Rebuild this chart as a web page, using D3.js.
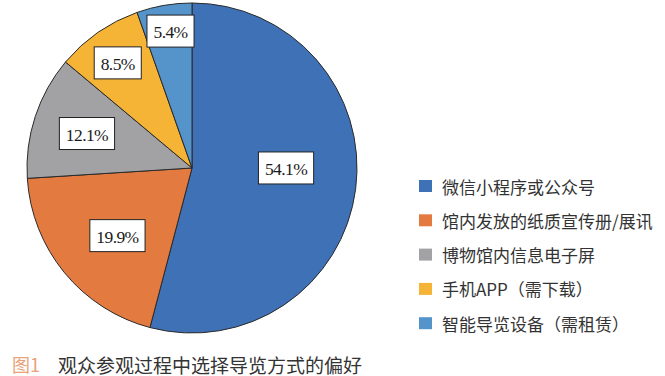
<!DOCTYPE html>
<html><head><meta charset="utf-8">
<script src="https://cdn.jsdelivr.net/npm/d3@7"></script>
<style>body{margin:0;background:#fff}svg{display:block}</style>
</head><body>
<svg id="c" width="665" height="376"></svg>
<script>
const categories = ["微信小程序或公众号","馆内发放的纸质宣传册/展讯","博物馆内信息电子屏","手机APP（需下载）","智能导览设备（需租赁）"];
const values = [54.1, 19.9, 12.1, 8.5, 5.4];
const valueLabels = ["54.1%","19.9%","12.1%","8.5%","5.4%"];
const captionNum = "图1";
const captionText = "观众参观过程中选择导览方式的偏好";

const colors = ["#3F71B7","#E37B41","#A2A2A5","#F6B437","#5593CB"];
const labelRadiusFactor = [0.57, 0.61, 0.67, 0.78, 0.84];
const labelAngleShiftDeg = [-7.4, -2.8, 0, -0.5, 0.8];

const svg = d3.select("#c");
const cx = 192, cy = 168, R = 165;
const g = svg.append("g").attr("transform", `translate(${cx},${cy})`);
const pie = d3.pie().sort(null).value(d => d);
const arcs = pie(values);
const arc = d3.arc().innerRadius(0).outerRadius(R);
g.selectAll("path.slice").data(arcs).join("path")
  .attr("class","slice")
  .attr("d", arc)
  .attr("fill", (d,i) => colors[i])
  .attr("stroke", "#2a2a2a")
  .attr("stroke-width", 1);

arcs.forEach((d,i) => {
  const a = (d.startAngle + d.endAngle)/2 + labelAngleShiftDeg[i]*Math.PI/180;
  const r = R * labelRadiusFactor[i];
  const x = Math.sin(a) * r, y = -Math.cos(a) * r;
  const lg = g.append("g").attr("transform", `translate(${x},${y})`);
  const t = lg.append("text")
    .attr("text-anchor","middle").attr("dominant-baseline","central")
    .attr("y", 1)
    .style("font-family","'Liberation Serif','Times New Roman',serif")
    .style("font-size","17.5px").style("letter-spacing","-0.6px")
    .attr("fill","#1a1a1a").text(valueLabels[i]);
  const w = t.node().getComputedTextLength() + 13, h = 32;
  lg.insert("rect","text").attr("x",-w/2).attr("y",-h/2).attr("width",w).attr("height",h)
    .attr("fill","#fff").attr("stroke","#222").attr("stroke-width",1);
});

const leg = svg.append("g");
categories.forEach((c,i) => {
  const y = 186 + i*34.3;
  leg.append("rect").attr("x",419).attr("y",y-6).attr("width",13).attr("height",12).attr("fill",colors[i]);
  leg.append("text").attr("x",442).attr("y",y).attr("dominant-baseline","central")
    .style("font-family","'Noto Sans CJK SC',sans-serif").style("font-size","17px")
    .attr("fill","#333").text(c);
});

svg.append("text").attr("x",12).attr("y",364).attr("dominant-baseline","central")
  .style("font-family","'Noto Sans CJK SC',sans-serif").style("font-size","18px")
  .attr("fill","#E9A27A").text(captionNum);
svg.append("text").attr("x",58).attr("y",364).attr("dominant-baseline","central")
  .style("font-family","'Noto Sans CJK SC',sans-serif").style("font-size","19px")
  .attr("fill","#333").text(captionText);
</script>
</body></html>
